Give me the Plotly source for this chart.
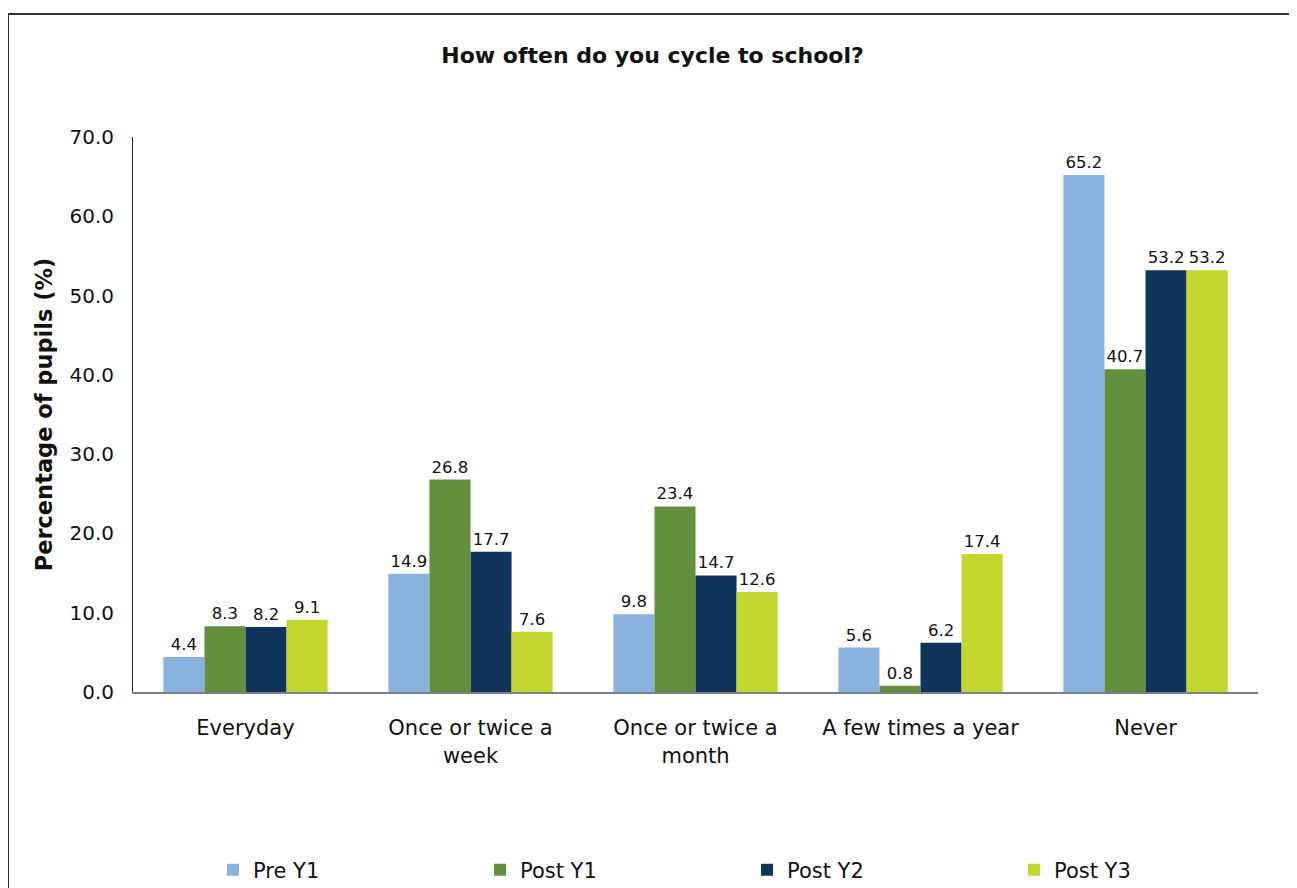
import plotly.graph_objects as go

categories = ["Everyday", "Once or twice a<br>week", "Once or twice a<br>month", "A few times a year", "Never"]
series_names = ["Pre Y1", "Post Y1", "Post Y2", "Post Y3"]
pre_y1 = [4.4, 14.9, 9.8, 5.6, 65.2]
post_y1 = [8.3, 26.8, 23.4, 0.8, 40.7]
post_y2 = [8.2, 17.7, 14.7, 6.2, 53.2]
post_y3 = [9.1, 7.6, 12.6, 17.4, 53.2]
colors = ["#89B2DF", "#648F3F", "#0F365A", "#C3D730"]
y_ticks = [0, 10, 20, 30, 40, 50, 60, 70]

OFF = 8  # page body margin
W, H = 1297 - OFF, 888 - OFF
# plot area in window pixels
PL, PR, PT, PB = 133, 1258, 137, 692
L, T = PL - OFF, PT - OFF
R, B = W - (PR - OFF), H - (PB - OFF)
pw, ph = PR - PL, PB - PT


def px_x(p):
    return (p - PL) / pw


def px_y(p):
    return (PB - p) / ph


fig = go.Figure()
for name, vals, col in zip(series_names, [pre_y1, post_y1, post_y2, post_y3], colors):
    fig.add_trace(go.Bar(
        name=name, x=categories, y=vals, marker=dict(color=col, line=dict(width=0)),
        text=[f"{v:.1f}" for v in vals], textposition="outside",
        textfont=dict(family="DejaVu Sans", size=16.5, color="#111"),
        cliponaxis=False,
    ))

fig.update_layout(
    width=W, height=H,
    margin=dict(l=L, r=R, t=T, b=B, autoexpand=False),
    paper_bgcolor="white", plot_bgcolor="white",
    barmode="group", bargap=0.27, bargroupgap=0,
    font=dict(family="DejaVu Sans", color="#111"),
    title=dict(text="<b>How often do you cycle to school?</b>", x=0.5, xanchor="center",
               y=1 - (55 - OFF) / H, yanchor="middle", yref="container",
               font=dict(family="DejaVu Sans", size=22, color="#111")),
    xaxis=dict(showline=True, linecolor="#7f7f7f", linewidth=2, ticks="",
               tickfont=dict(size=21, color="#111"), ticklabelstandoff=16,
               showgrid=False, zeroline=False, automargin=False),
    yaxis=dict(range=[0, 70], tickvals=y_ticks, tickformat=".1f", showline=True,
               linecolor="#222", linewidth=1, ticks="", showgrid=False, zeroline=False,
               tickfont=dict(size=20, color="#111"), ticklabelstandoff=14,
               title=dict(text="<b>Percentage of pupils (%)</b>", standoff=10,
                          font=dict(size=22.5, color="#111")),
               automargin=False),
    legend=dict(orientation="h", x=px_x(213), xanchor="left", y=px_y(870), yanchor="middle",
                entrywidth=222, entrywidthmode="pixels", font=dict(size=21, color="#111"),
                traceorder="normal", bgcolor="rgba(0,0,0,0)", borderwidth=0),
    showlegend=True,
    shapes=[dict(type="rect", xref="paper", yref="paper",
                 x0=px_x(8), x1=px_x(1310), y0=px_y(900), y1=px_y(14),
                 line=dict(color="#333", width=2), fillcolor="rgba(0,0,0,0)", layer="below")],
)

fig.write_html("out.html")
